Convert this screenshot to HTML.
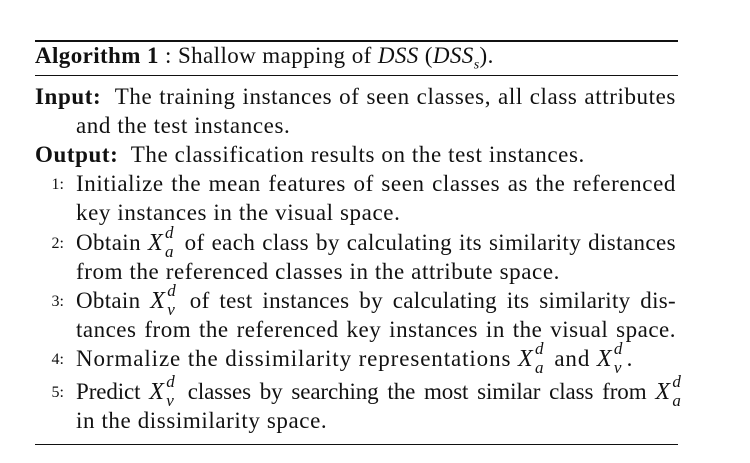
<!DOCTYPE html>
<html><head><meta charset="utf-8">
<style>
body{margin:0;width:750px;height:463px;background:#fff;position:relative;overflow:hidden;font-family:"Liberation Serif",serif;color:#111;}
.r{position:absolute;left:35px;width:643px;background:#111;}
.l{position:absolute;font-size:23px;line-height:24px;white-space:nowrap;letter-spacing:0.6px;}
.j{text-align:justify;text-align-last:justify;}
.n{position:absolute;left:44px;font-size:16px;line-height:24px;width:20px;text-align:right;}
i{font-style:italic}
.x{display:inline-block;position:relative;font-style:italic;padding-right:15px;letter-spacing:0;font-size:24px;}
.x .u{position:absolute;left:17px;top:-10px;font-size:17px;}
.x .d{position:absolute;left:17px;top:9px;font-size:17px;}
</style></head><body>
<div class="r" style="top:40px;height:1.5px"></div>
<div class="l" style="left:35px;top:44px;letter-spacing:0.4px"><b>Algorithm 1</b> : Shallow mapping of <i>DSS</i> (<i>DSS<sub style="font-size:14px">s</sub></i>).</div>
<div class="r" style="top:75px;height:1px"></div>
<div class="l j" style="left:35px;width:641px;top:85px"><b>Input:</b>&nbsp; The training instances of seen classes, all class attributes</div>
<div class="l" style="left:76px;top:114px">and the test instances.</div>
<div class="l" style="left:35px;top:143px"><b>Output:</b>&nbsp; The classification results on the test instances.</div>
<div class="n" style="top:173px">1:</div>
<div class="l j" style="left:76px;width:600px;top:172px">Initialize the mean features of seen classes as the referenced</div>
<div class="l" style="left:76px;top:201px">key instances in the visual space.</div>
<div class="n" style="top:232px">2:</div>
<div class="l j" style="left:76px;width:600px;top:231px;letter-spacing:0.4px">Obtain <span class="x">X<span class="u">d</span><span class="d">a</span></span> of each class by calculating its similarity distances</div>
<div class="l" style="left:76px;top:260px">from the referenced classes in the attribute space.</div>
<div class="n" style="top:290px">3:</div>
<div class="l j" style="left:76px;width:600px;top:289px;letter-spacing:0.3px">Obtain <span class="x">X<span class="u">d</span><span class="d">v</span></span> of test instances by calculating its similarity dis-</div>
<div class="l j" style="left:76px;width:600px;top:318px;letter-spacing:0.5px">tances from the referenced key instances in the visual space.</div>
<div class="n" style="top:348px">4:</div>
<div class="l" style="left:76px;top:347px;letter-spacing:0.9px">Normalize the dissimilarity representations <span class="x">X<span class="u">d</span><span class="d">a</span></span> and <span class="x">X<span class="u">d</span><span class="d">v</span></span>.</div>
<div class="n" style="top:381px">5:</div>
<div class="l j" style="left:76px;width:600px;top:380px;letter-spacing:-0.1px">Predict <span class="x">X<span class="u">d</span><span class="d">v</span></span> classes by searching the most similar class from <span class="x" style="padding-right:6px">X<span class="u">d</span><span class="d">a</span></span></div>
<div class="l" style="left:76px;top:409px">in the dissimilarity space.</div>
<div class="r" style="top:444px;height:1px"></div>
</body></html>
